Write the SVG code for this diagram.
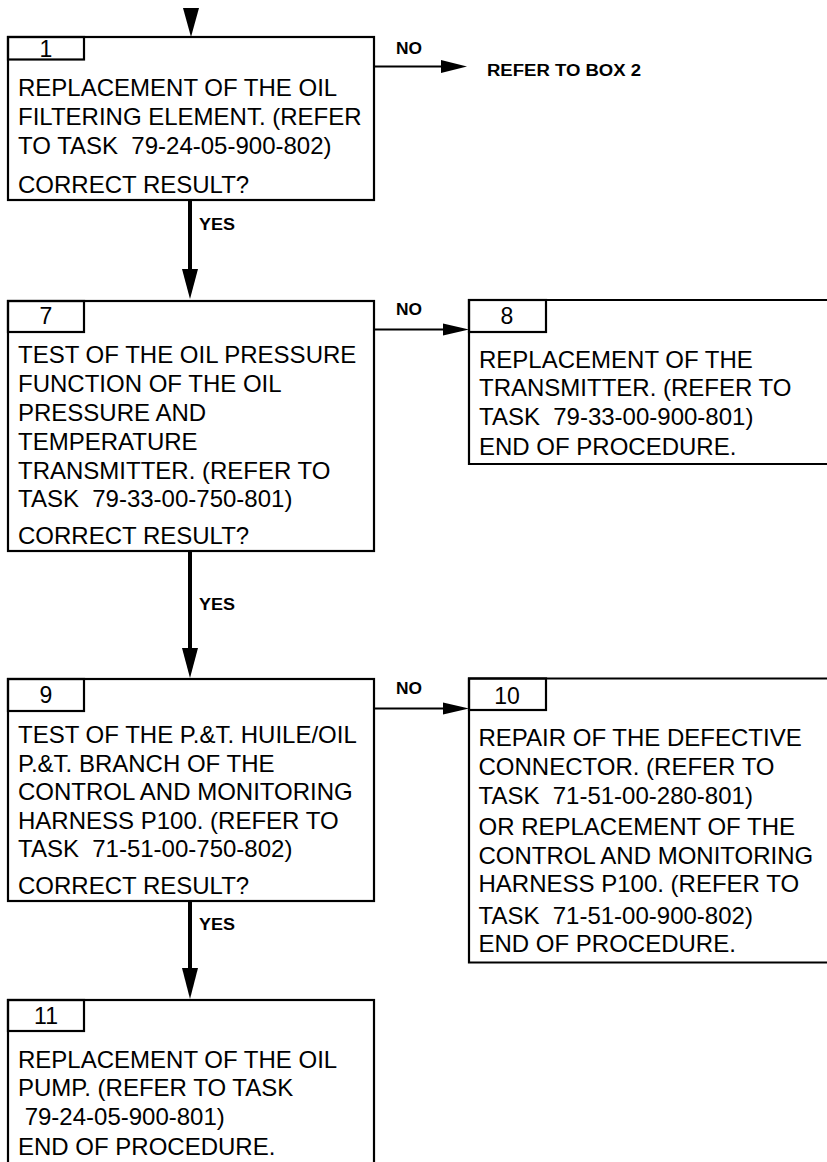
<svg xmlns="http://www.w3.org/2000/svg" width="827" height="1162" viewBox="0 0 827 1162">
<style>
.box{fill:#fff;stroke:#000;stroke-width:2.2}
.tag{fill:none;stroke:#000;stroke-width:2.2}
.t{font-family:"Liberation Sans",Arial,sans-serif;font-size:24px;fill:#000;white-space:pre}
.n{font-family:"Liberation Sans",Arial,sans-serif;font-size:23px;fill:#000;text-anchor:middle}
.lb{font-family:"Liberation Sans",Arial,sans-serif;font-size:16px;font-weight:bold;fill:#000}
.v{stroke:#000;stroke-width:4;fill:none}
.h{stroke:#000;stroke-width:2;fill:none}
.hd{fill:#000}
</style>
<rect width="827" height="1162" fill="#fff"/>
<g id="connectors">
<polygon class="hd" points="183,8 199,8 191,37"/>
<line class="v" x1="190" y1="200" x2="190" y2="271"/>
<polygon class="hd" points="182,269 198,269 190,299"/>
<line class="h" x1="374" y1="66.5" x2="445" y2="66.5"/>
<polygon class="hd" points="441,60 467,66.5 441,73"/>
<line class="h" x1="374" y1="329.5" x2="446" y2="329.5"/>
<polygon class="hd" points="443,323.5 469,329.5 443,335.5"/>
<line class="v" x1="190" y1="551" x2="190" y2="650"/>
<polygon class="hd" points="182,648 198,648 190,678"/>
<line class="h" x1="374" y1="708.5" x2="446" y2="708.5"/>
<polygon class="hd" points="443,702.5 469,708.5 443,714.5"/>
<line class="v" x1="190" y1="901" x2="190" y2="970"/>
<polygon class="hd" points="182,968 198,968 190,999"/>
<text class="lb" x="396" y="54" textLength="26" lengthAdjust="spacingAndGlyphs">NO</text>
<text class="lb" x="487" y="75.5" font-size="17" textLength="154" lengthAdjust="spacingAndGlyphs">REFER TO BOX 2</text>
<text class="lb" x="199" y="229.5" textLength="36" lengthAdjust="spacingAndGlyphs">YES</text>
<text class="lb" x="396" y="315" textLength="26" lengthAdjust="spacingAndGlyphs">NO</text>
<text class="lb" x="199" y="610" textLength="36" lengthAdjust="spacingAndGlyphs">YES</text>
<text class="lb" x="396" y="694" textLength="26" lengthAdjust="spacingAndGlyphs">NO</text>
<text class="lb" x="199" y="930" textLength="36" lengthAdjust="spacingAndGlyphs">YES</text>
</g>
<g id="box1">
<rect class="box" x="8" y="37" width="366" height="163"/>
<rect class="tag" x="8" y="37" width="76" height="22.5"/>
<text class="n" x="46" y="56.5">1</text>
<text class="t" x="18" y="96">REPLACEMENT OF THE OIL</text>
<text class="t" x="18" y="125">FILTERING ELEMENT. (REFER</text>
<text class="t" x="18" y="154">TO TASK  79-24-05-900-802)</text>
<text class="t" x="18" y="192.5">CORRECT RESULT?</text>
</g>
<g id="box7">
<rect class="box" x="8" y="301" width="366" height="250"/>
<rect class="tag" x="8" y="301" width="76" height="31"/>
<text class="n" x="46" y="324">7</text>
<text class="t" x="18" y="363">TEST OF THE OIL PRESSURE</text>
<text class="t" x="18" y="392">FUNCTION OF THE OIL</text>
<text class="t" x="18" y="420.5">PRESSURE AND</text>
<text class="t" x="18" y="449.5">TEMPERATURE</text>
<text class="t" x="18" y="478.5">TRANSMITTER. (REFER TO</text>
<text class="t" x="18" y="507">TASK  79-33-00-750-801)</text>
<text class="t" x="18" y="543.5">CORRECT RESULT?</text>
</g>
<g id="box8">
<path class="box" d="M830,300 H469 V464 H830"/>
<rect class="tag" x="469" y="300" width="77" height="32"/>
<text class="n" x="507" y="323.5">8</text>
<text class="t" x="479" y="367.5">REPLACEMENT OF THE</text>
<text class="t" x="479" y="396">TRANSMITTER. (REFER TO</text>
<text class="t" x="479" y="425">TASK  79-33-00-900-801)</text>
<text class="t" x="479" y="455">END OF PROCEDURE.</text>
</g>
<g id="box9">
<rect class="box" x="8" y="679" width="366" height="222"/>
<rect class="tag" x="8" y="679" width="76" height="32"/>
<text class="n" x="46" y="702.5">9</text>
<text class="t" x="18" y="743">TEST OF THE P.&amp;T. HUILE/OIL</text>
<text class="t" x="18" y="772">P.&amp;T. BRANCH OF THE</text>
<text class="t" x="18" y="800">CONTROL AND MONITORING</text>
<text class="t" x="18" y="828.5">HARNESS P100. (REFER TO</text>
<text class="t" x="18" y="857">TASK  71-51-00-750-802)</text>
<text class="t" x="18" y="893.5">CORRECT RESULT?</text>
</g>
<g id="box10">
<path class="box" d="M830,678.5 H469 V962.5 H830"/>
<rect class="tag" x="469" y="678.5" width="77" height="31.5"/>
<text class="n" x="507" y="703.5">10</text>
<text class="t" x="478.5" y="746">REPAIR OF THE DEFECTIVE</text>
<text class="t" x="478.5" y="775">CONNECTOR. (REFER TO</text>
<text class="t" x="478.5" y="803.5">TASK  71-51-00-280-801)</text>
<text class="t" x="478.5" y="835">OR REPLACEMENT OF THE</text>
<text class="t" x="478.5" y="863.5">CONTROL AND MONITORING</text>
<text class="t" x="478.5" y="892">HARNESS P100. (REFER TO</text>
<text class="t" x="478.5" y="923.5">TASK  71-51-00-900-802)</text>
<text class="t" x="478.5" y="952">END OF PROCEDURE.</text>
</g>
<g id="box11">
<rect class="box" x="8" y="1000" width="366" height="180"/>
<rect class="tag" x="8" y="1000" width="76" height="31"/>
<text class="n" x="46" y="1024">11</text>
<text class="t" x="18" y="1067.5">REPLACEMENT OF THE OIL</text>
<text class="t" x="18" y="1096">PUMP. (REFER TO TASK</text>
<text class="t" x="18" y="1125"> 79-24-05-900-801)</text>
<text class="t" x="18" y="1155">END OF PROCEDURE.</text>
</g>
</svg>
